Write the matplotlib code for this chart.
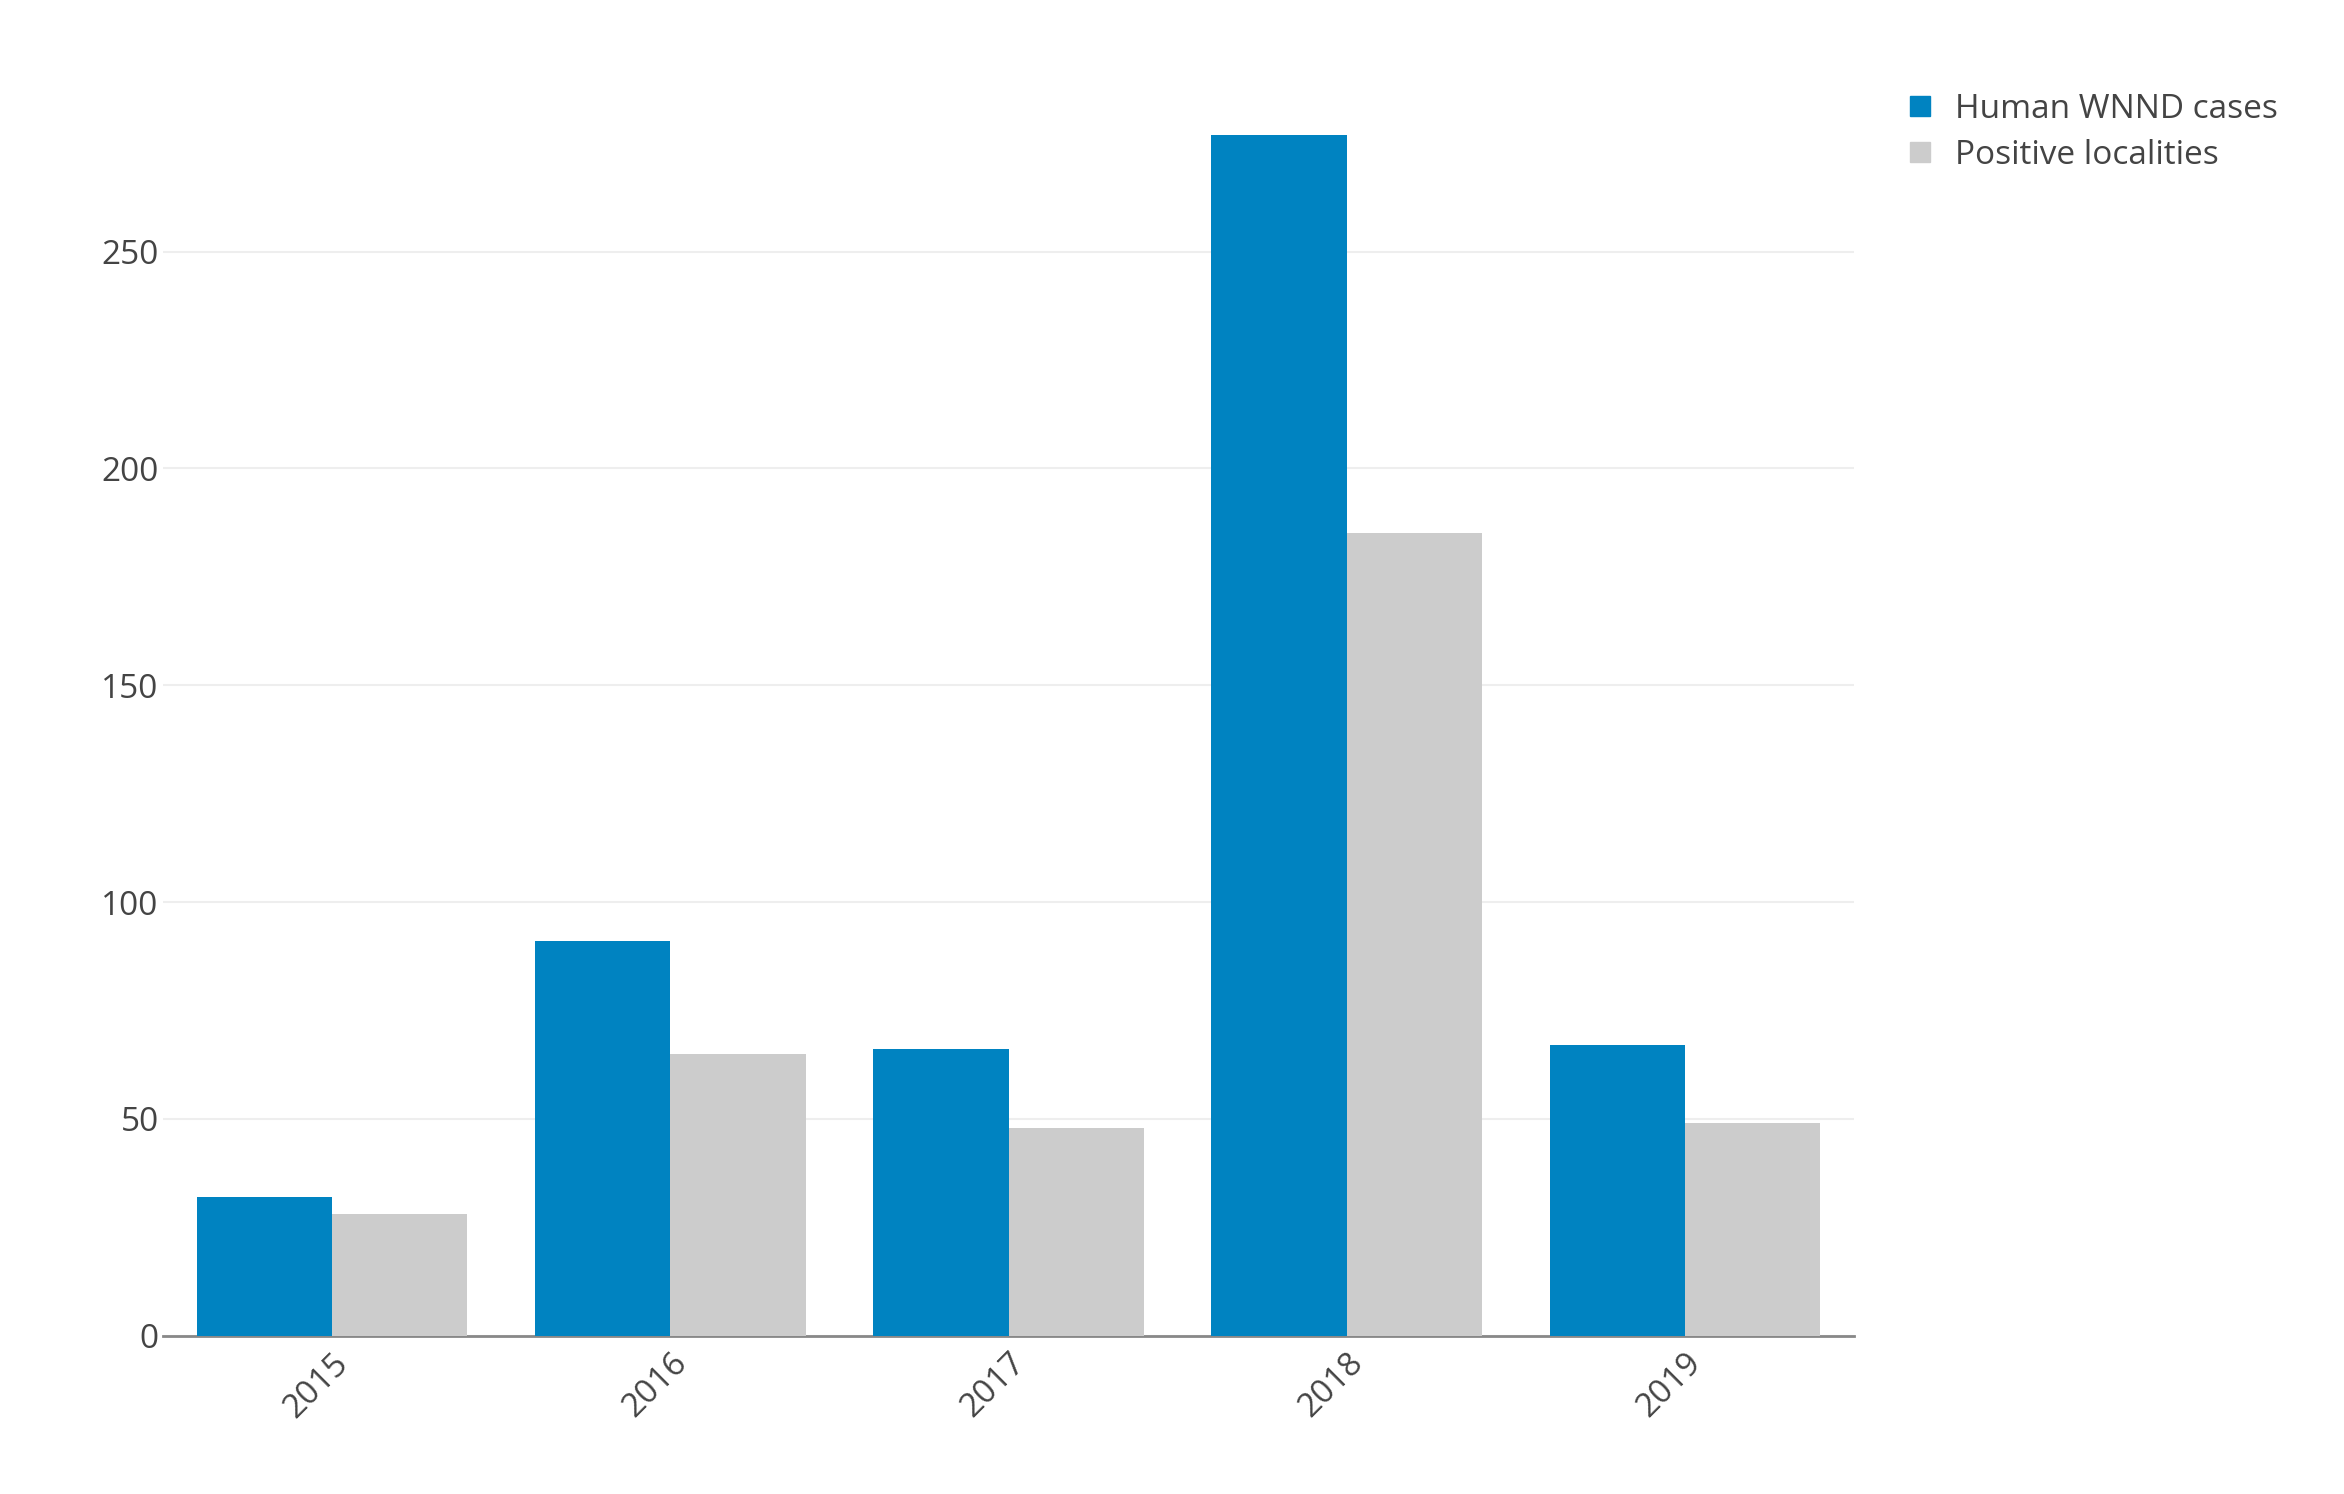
import numpy as np
from matplotlib import pyplot as plt
from matplotlib.lines import Line2D

years = ["2015", "2016", "2017", "2018", "2019"]
human_cases = [32, 91, 66, 277, 67]
positive_localities = [28, 65, 48, 185, 49]
series_names = ["Human WNND cases", "Positive localities"]

blue = "#0083c1"
grey = "#cccccc"
text_col = "#444444"

plt.rcParams["font.family"] = ["Open Sans", "DejaVu Sans"]

fig = plt.figure(figsize=(23.44, 14.94), dpi=100)
ax = fig.add_axes([0.0695, 0.106, 0.7215, 0.846])

wid = 0.4
x = np.arange(len(years))
ax.bar(x - wid / 2, human_cases, width=wid, color=blue, zorder=3)
ax.bar(x + wid / 2, positive_localities, width=wid, color=grey, zorder=3)

ax.set_xlim(-0.5, 4.5)
ax.set_ylim(0, 291.5)
ax.set_yticks([0, 50, 100, 150, 200, 250])
ax.grid(axis="y", color="#eeeeee", linewidth=1.5, zorder=0)
ax.set_xticks(x)
ax.set_xticklabels(years, rotation=45, ha="right", rotation_mode="anchor")

for s in ["top", "right", "left"]:
    ax.spines[s].set_visible(False)
ax.spines["bottom"].set_color("#888888")
ax.spines["bottom"].set_linewidth(2)
ax.tick_params(axis="both", length=0, labelsize=24, colors=text_col)
ax.tick_params(axis="y", pad=3)
ax.tick_params(axis="x", pad=8)

handles = [Line2D([], [], marker="s", linestyle="", markersize=14, color=c)
           for c in (blue, grey)]
fig.legend(handles, series_names, loc="upper left", bbox_to_anchor=(0.792, 0.958),
           frameon=False, fontsize=24, labelcolor=text_col, handletextpad=0.05,
           labelspacing=0.4)

fig.savefig("out.png", dpi=100)
